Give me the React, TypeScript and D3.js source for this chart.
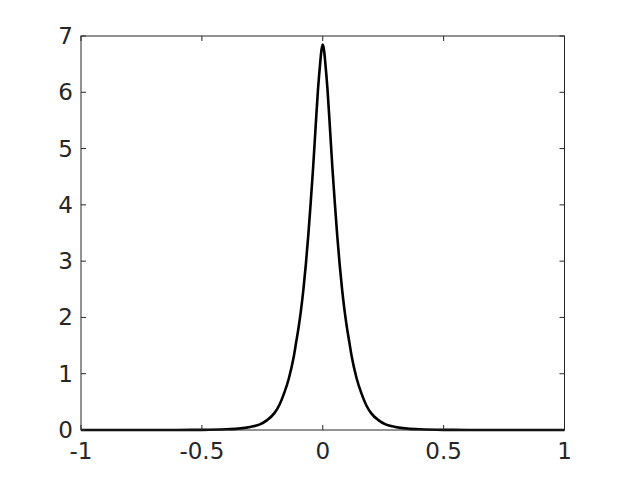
import React from "react";
import * as d3 from "d3";

const xValues = [
  -1, -0.8, -0.6, -0.5, -0.4, -0.35, -0.3, -0.26, -0.23, -0.2, -0.18, -0.16, -0.14, -0.12, -0.11, -0.1, -0.09,
  -0.08, -0.07, -0.06, -0.05, -0.04, -0.03, -0.02, -0.01, -0.005, 0,
  0.005, 0.01, 0.02, 0.03, 0.04, 0.05, 0.06, 0.07, 0.08, 0.09, 0.1, 0.11, 0.12, 0.14, 0.16, 0.18, 0.2, 0.23,
  0.26, 0.3, 0.35, 0.4, 0.5, 0.6, 0.8, 1,
];
const yValues = [
  0, 0, 0.001, 0.003, 0.012, 0.025, 0.055, 0.1, 0.175, 0.3, 0.44, 0.65, 0.92, 1.3, 1.56, 1.82, 2.13,
  2.5, 2.94, 3.45, 4.03, 4.65, 5.35, 6.03, 6.55, 6.76, 6.85,
  6.76, 6.55, 6.03, 5.35, 4.65, 4.03, 3.45, 2.94, 2.5, 2.13, 1.82, 1.56, 1.3, 0.92, 0.65, 0.44, 0.3, 0.175,
  0.1, 0.055, 0.025, 0.012, 0.003, 0.001, 0, 0,
];
const xTicks = [-1, -0.5, 0, 0.5, 1];
const xTickLabels = ["-1", "-0.5", "0", "0.5", "1"];
const yTicks = [0, 1, 2, 3, 4, 5, 6, 7];
const yTickLabels = ["0", "1", "2", "3", "4", "5", "6", "7"];

const W = 624;
const H = 483;
const left = 81;
const right = 564.5;
const top = 36;
const bottom = 430;
const axisColor = "#262626";
const font = "'DejaVu Sans', sans-serif";
const tickLen = 5;

export default function App() {
  const x = d3.scaleLinear().domain([-1, 1]).range([left, right]);
  const y = d3.scaleLinear().domain([0, 7]).range([bottom, top]);
  const pts = xValues.map((v, i) => [v, yValues[i]] as [number, number]);
  const line = d3
    .line<[number, number]>()
    .x((d) => x(d[0]))
    .y((d) => y(d[1]))
    .curve(d3.curveMonotoneX);

  return (
    <svg
      width={W}
      height={H}
      style={{ position: "absolute", left: 0, top: 0, background: "#fff" }}
    >
      <rect x={0} y={0} width={W} height={H} fill="#fff" />
      <rect x={left} y={top} width={right - left} height={bottom - top} fill="#fff" />
      <path d={line(pts) || ""} fill="none" stroke="#000" strokeWidth={2.6} strokeLinejoin="round" />
      <rect
        x={left}
        y={top}
        width={right - left}
        height={bottom - top}
        fill="none"
        stroke={axisColor}
        strokeWidth={1}
      />
      {xTicks.map((t, i) => (
        <g key={"x" + i}>
          <line x1={x(t)} x2={x(t)} y1={bottom} y2={bottom - tickLen} stroke={axisColor} />
          <line x1={x(t)} x2={x(t)} y1={top} y2={top + tickLen} stroke={axisColor} />
          <text
            x={x(t)}
            y={459}
            textAnchor="middle"
            fontFamily={font}
            fontSize={23}
            fill={axisColor}
          >
            {xTickLabels[i]}
          </text>
        </g>
      ))}
      {yTicks.map((t, i) => (
        <g key={"y" + i}>
          <line x1={left} x2={left + tickLen} y1={y(t)} y2={y(t)} stroke={axisColor} />
          <line x1={right} x2={right - tickLen} y1={y(t)} y2={y(t)} stroke={axisColor} />
          <text
            x={73}
            y={y(t)}
            textAnchor="end"
            dominantBaseline="central"
            fontFamily={font}
            fontSize={23}
            fill={axisColor}
          >
            {yTickLabels[i]}
          </text>
        </g>
      ))}
    </svg>
  );
}
